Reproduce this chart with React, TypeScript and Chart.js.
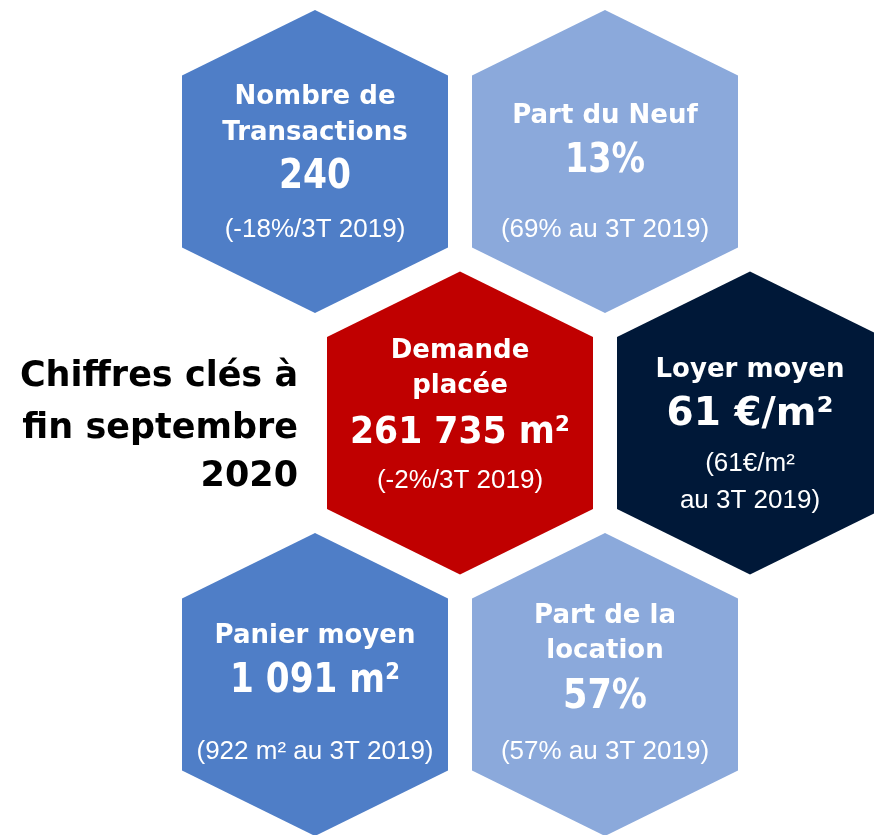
import React, { useEffect, useRef } from "react";
import { Chart, registerables } from "chart.js";

Chart.register(...registerables);

// ---- data ----
const categories = [
  ["Nombre de", "Transactions"],
  ["Part du Neuf"],
  ["Demande", "placée"],
  ["Loyer moyen"],
  ["Panier moyen"],
  ["Part de la", "location"],
];
const values = ["240", "13%", "261 735 m²", "61 €/m²", "1 091 m²", "57%"];
const comparisons = [
  ["(-18%/3T 2019)"],
  ["(69% au 3T 2019)"],
  ["(-2%/3T 2019)"],
  ["(61€/m²", "au 3T 2019)"],
  ["(922 m² au 3T 2019)"],
  ["(57% au 3T 2019)"],
];
const gridCols = [0, 1, 0.5, 1.5, 0, 1];
const gridRows = [0, 0, 1, 1, 2, 2];
const titleLines = ["Chiffres clés à", "fin septembre", "2020"];

// ---- styles ----
const fills = ["#4F7EC7", "#8BA9DB", "#C00000", "#001838", "#4F7EC7", "#8BA9DB"];
// baseline offsets (px) from hex centre: [title lines..., value, comparison lines...]
const layout = [
  [-57.5, -21.5, 26.5, 75.5],
  [-38.5, 10.5, 75.5],
  [-65, -30, 20, 65],
  [-46, 2, 48, 85],
  [-41.5, 7.5, 74.5],
  [-61.5, -26.5, 23.5, 74.5],
];
const valueFontSizes = [40, 40, 37, 39, 40, 40];
const valueMaxWidths = [72, 80, 220, 168, 170, 84];
const HEX_W = 133 / 290; // half-width in column units
const HEX_R = 151.5 / 261.5; // half-height in row units
const HEX_S = 86 / 261.5; // shoulder offset in row units

const BOLD = "bold 26px 'DejaVu Sans'";
const REG = "26px 'Liberation Sans'";

const hexPlugin = {
  id: "hexes",
  beforeDatasetsDraw(chart: any) {
    const ctx = chart.ctx;
    const xs = chart.scales.x;
    const ys = chart.scales.y;
    gridCols.forEach((c, i) => {
      const r = gridRows[i];
      const cx = xs.getPixelForValue(c);
      const xl = xs.getPixelForValue(c - HEX_W);
      const xr = xs.getPixelForValue(c + HEX_W);
      const yt = ys.getPixelForValue(r - HEX_R);
      const yb = ys.getPixelForValue(r + HEX_R);
      const yst = ys.getPixelForValue(r - HEX_S);
      const ysb = ys.getPixelForValue(r + HEX_S);
      ctx.save();
      ctx.beginPath();
      ctx.moveTo(cx, yt);
      ctx.lineTo(xr, yst);
      ctx.lineTo(xr, ysb);
      ctx.lineTo(cx, yb);
      ctx.lineTo(xl, ysb);
      ctx.lineTo(xl, yst);
      ctx.closePath();
      ctx.fillStyle = fills[i];
      ctx.fill();
      ctx.restore();
    });
  },
  afterDatasetsDraw(chart: any) {
    const ctx = chart.ctx;
    const xs = chart.scales.x;
    const ys = chart.scales.y;
    ctx.save();
    ctx.textAlign = "center";
    ctx.textBaseline = "alphabetic";
    ctx.fillStyle = "#FFFFFF";
    gridCols.forEach((c, i) => {
      const cx = xs.getPixelForValue(c);
      const cy = ys.getPixelForValue(gridRows[i]);
      const offs = layout[i];
      let k = 0;
      categories[i].forEach((t) => {
        ctx.font = BOLD;
        ctx.fillText(t, cx, cy + offs[k++], 240);
      });
      ctx.font = `bold ${valueFontSizes[i]}px 'DejaVu Sans'`;
      ctx.fillText(values[i], cx, cy + offs[k++], valueMaxWidths[i]);
      comparisons[i].forEach((t) => {
        ctx.font = REG;
        ctx.fillText(t, cx, cy + offs[k++], 244);
      });
    });
    // left heading
    ctx.fillStyle = "#000000";
    ctx.textAlign = "right";
    ctx.font = "bold 35px 'DejaVu Sans'";
    const baselines = [386, 438, 486];
    titleLines.forEach((t, j) => ctx.fillText(t, 298, baselines[j], 282));
    ctx.restore();
  },
};

export default function App() {
  const ref = useRef<HTMLCanvasElement | null>(null);
  useEffect(() => {
    document.body.style.margin = "0";
    const canvas = ref.current!;
    const chart = new Chart(canvas, {
      type: "scatter",
      data: {
        datasets: [
          {
            data: gridCols.map((c, i) => ({ x: c, y: gridRows[i] })),
            pointRadius: 0,
            pointHoverRadius: 0,
          },
        ],
      },
      options: {
        animation: false,
        responsive: false,
        devicePixelRatio: 1,
        layout: { padding: 0 },
        plugins: { legend: { display: false }, tooltip: { enabled: false } },
        events: [],
        scales: {
          x: { type: "linear", display: false, min: -315 / 290, max: (874 - 315) / 290 },
          y: {
            type: "linear",
            display: false,
            reverse: true,
            min: -161.5 / 261.5,
            max: (835 - 161.5) / 261.5,
          },
        },
      },
      plugins: [hexPlugin],
    });
    return () => chart.destroy();
  }, []);
  return (
    <div style={{ width: 874, height: 835, background: "#fff" }}>
      <canvas ref={ref} width={874} height={835} style={{ display: "block" }} />
    </div>
  );
}
